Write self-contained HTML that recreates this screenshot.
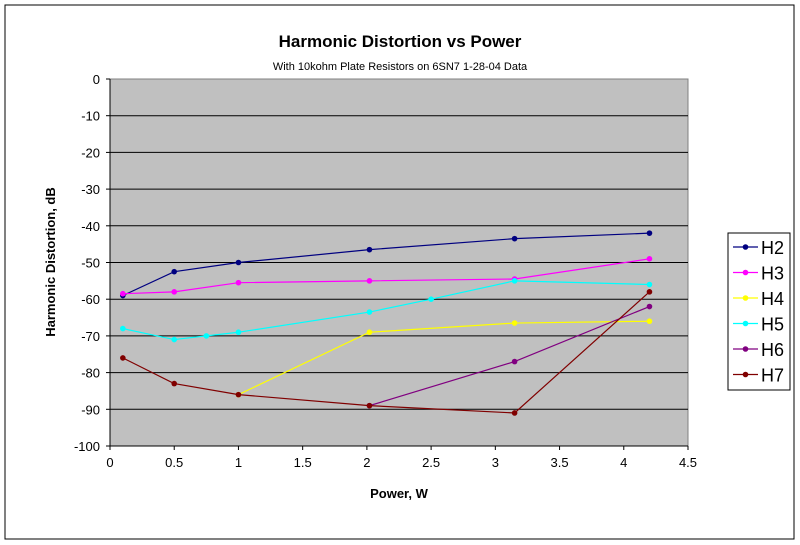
<!DOCTYPE html>
<html><head><meta charset="utf-8"><style>
body{margin:0;background:#fff;font-family:"Liberation Sans",Arial,sans-serif}
svg{display:block}
</style></head><body>
<svg id="chart" width="800" height="545">
<rect x="5" y="5" width="789" height="534" fill="#fff" stroke="#000" stroke-width="1"/>
<text x="400" y="47" text-anchor="middle" font-size="17" font-weight="bold">Harmonic Distortion vs Power</text>
<text x="400" y="70" text-anchor="middle" font-size="11">With 10kohm Plate Resistors on 6SN7 1-28-04 Data</text>
<rect x="110" y="79" width="578" height="367" fill="#c0c0c0" stroke="#808080"/>
<g id="grid"></g><g id="axes"></g><g id="series"></g>
<text transform="translate(55,262) rotate(-90)" text-anchor="middle" font-size="13" font-weight="bold">Harmonic Distortion, dB</text>
<text x="399" y="498" text-anchor="middle" font-size="13" font-weight="bold">Power, W</text>
<rect x="728" y="233" width="62" height="157" fill="#fff" stroke="#000"/>
<g id="legend"></g>
</svg>
<script>
const xTicks=[0,0.5,1,1.5,2,2.5,3,3.5,4,4.5];
const yTicks=[0,-10,-20,-30,-40,-50,-60,-70,-80,-90,-100];
const names=["H2","H3","H4","H5","H6","H7"];
const colors=["#000080","#ff00ff","#ffff00","#00ffff","#800080","#800000"];
const xStd=[0.1,0.5,1,2.02,3.15,4.2];
const h2=[-59,-52.5,-50,-46.5,-43.5,-42];
const h3=[-58.5,-58,-55.5,-55,-54.5,-49];
const h4x=[1,2.02,3.15,4.2];
const h4=[-86,-69,-66.5,-66];
const h5x=[0.1,0.5,0.75,1,2.02,2.5,3.15,4.2];
const h5=[-68,-71,-70,-69,-63.5,-60,-55,-56];
const h6x=[2.02,3.15,4.2];
const h6=[-89,-77,-62];
const h7=[-76,-83,-86,-89,-91,-58];
const NS="http://www.w3.org/2000/svg";
const X=v=>110+v*(578/4.5), Y=v=>79-v*(367/100);
function mk(t,a,p){const e=document.createElementNS(NS,t);for(const k in a)e.setAttribute(k,a[k]);p.appendChild(e);return e;}
const grid=document.getElementById('grid'),axes=document.getElementById('axes'),ser=document.getElementById('series'),leg=document.getElementById('legend');
yTicks.forEach(v=>{
 if(v>-100&&v<0){const l=mk('line',{x1:110,x2:688,y1:Y(v),y2:Y(v),stroke:'#000'},grid);
 
 }
 const t=mk('text',{x:100,y:Y(v)+5,'text-anchor':'end','font-size':13},axes);t.textContent=v;
 
 
 mk('line',{x1:106,x2:110,y1:Y(v),y2:Y(v),stroke:'#000'},axes);
});
xTicks.forEach(v=>{
 const t=mk('text',{x:X(v),y:467,'text-anchor':'middle','font-size':13},axes);t.textContent=v;
 
 
 mk('line',{x1:X(v),x2:X(v),y1:446,y2:450,stroke:'#000'},axes);
});
mk('line',{x1:110,x2:110,y1:79,y2:446,stroke:'#000'},axes);
mk('line',{x1:110,x2:688,y1:446,y2:446,stroke:'#000'},axes);
const data=[[xStd,h2],[xStd,h3],[h4x,h4],[h5x,h5],[h6x,h6],[xStd,h7]];
data.forEach((d,i)=>{
 const pts=d[0].map((x,j)=>X(x)+','+Y(d[1][j])).join(' ');
 const pl=mk('polyline',{points:pts,fill:'none',stroke:colors[i],'stroke-width':1.2},ser);
 
 
 d[0].forEach((x,j)=>{
  const m=mk('circle',{cx:X(x),cy:Y(d[1][j]),r:2.8,fill:colors[i]},ser);
  
  
 });
 const ly=247+i*25.5;
 mk('line',{x1:733,x2:758,y1:ly,y2:ly,stroke:colors[i],'stroke-width':1.2},leg);
 mk('circle',{cx:745.5,cy:ly,r:2.8,fill:colors[i]},leg);
 const t=mk('text',{x:761,y:ly+7,'font-size':18},leg);t.textContent=names[i];
 
 
});
</script>
</body></html>
